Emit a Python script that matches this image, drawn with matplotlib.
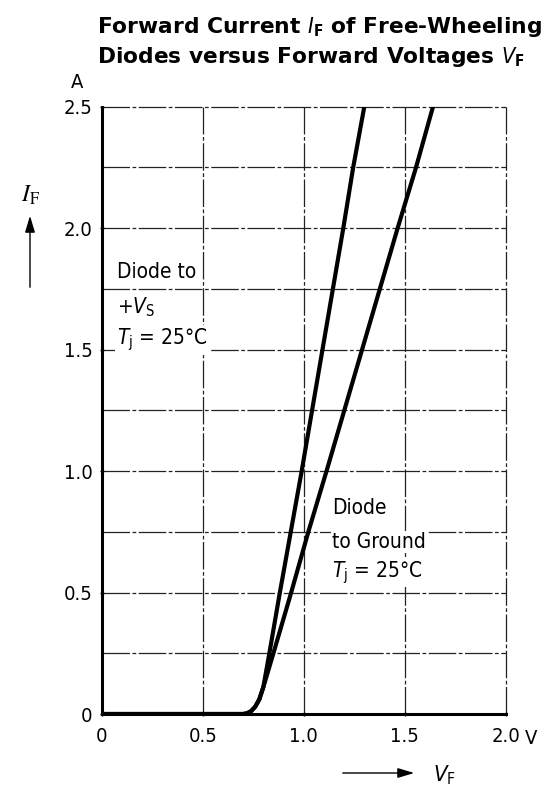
import matplotlib
matplotlib.use("Agg")
import matplotlib.pyplot as plt
from matplotlib.patches import FancyArrowPatch

# forward characteristics
vf_supply = [0.0, 0.70, 0.72, 0.74, 0.76, 0.78, 0.80, 0.83, 0.882, 0.936, 0.99, 1.196, 1.245, 1.30]
if_supply = [0.0, 0.0, 0.003, 0.012, 0.03, 0.06, 0.11, 0.25, 0.50, 0.75, 1.00, 2.00, 2.25, 2.50]
vf_ground = [0.0, 0.70, 0.72, 0.74, 0.76, 0.78, 0.80, 0.85, 0.938, 1.023, 1.113, 1.465, 1.556, 1.64]
if_ground = [0.0, 0.0, 0.003, 0.012, 0.03, 0.06, 0.11, 0.25, 0.50, 0.75, 1.00, 2.00, 2.25, 2.50]

x_ticks = [0, 0.5, 1.0, 1.5, 2.0]
x_labels = ["0", "0.5", "1.0", "1.5", "2.0"]
y_ticks = [0, 0.5, 1.0, 1.5, 2.0, 2.5]
y_labels = ["0", "0.5", "1.0", "1.5", "2.0", "2.5"]

plt.rcParams["font.family"] = ["DejaVu Sans"]
plt.rcParams["font.stretch"] = "condensed"
plt.rcParams["mathtext.fontset"] = "dejavusans"

W, H = 547, 790
fig = plt.figure(figsize=(W / 100, H / 100), dpi=100)
ax = fig.add_axes([101.7 / W, 1 - 714 / H, (505.7 - 101.7) / W, (714 - 106.7) / H])


def px(x, y):
    return x / W, 1 - y / H


ax.set_xlim(0, 2.0)
ax.set_ylim(0, 2.5)

grid_ls = (0, (22, 2, 3, 2))
for v in [0.5, 1.0, 1.5, 2.0]:
    ax.axvline(v, color="#222222", lw=0.9, ls=grid_ls, zorder=1, clip_on=False)
for i in [0.25, 0.5, 0.75, 1.0, 1.25, 1.5, 1.75, 2.0, 2.25, 2.5]:
    ax.axhline(i, color="#222222", lw=0.9, ls=grid_ls, zorder=1, clip_on=False)

ax.plot(vf_supply, if_supply, color="black", lw=3.0, zorder=4, solid_capstyle="butt")
ax.plot(vf_ground, if_ground, color="black", lw=3.0, zorder=4, solid_capstyle="butt")

for s in ["top", "right"]:
    ax.spines[s].set_visible(False)
for s in ["left", "bottom"]:
    ax.spines[s].set_linewidth(2.2)
    ax.spines[s].set_zorder(5)

ax.set_xticks(x_ticks)
ax.set_xticklabels(x_labels)
ax.set_yticks(y_ticks)
ax.set_yticklabels(y_labels)
ax.tick_params(axis="both", length=3, width=1, direction="inout", labelsize=14.5)
ax.tick_params(axis="x", pad=8)
ax.tick_params(axis="y", pad=5)

box = dict(facecolor="white", edgecolor="none", pad=1.0)
txt = dict(fontsize=15, va="center", ha="left", zorder=3, bbox=box)
ax.text(0.075, 1.82, "Diode to", **txt)
ax.text(0.075, 1.675, r"+$\mathit{V}_\mathrm{S}$", **txt)
ax.text(0.075, 1.54, r"$\mathit{T}_\mathrm{j}$ = 25°C", **txt)
ax.text(1.14, 0.848, "Diode", **txt)
ax.text(1.14, 0.708, "to Ground", **txt)
ax.text(1.14, 0.584, r"$\mathit{T}_\mathrm{j}$ = 25°C", **txt)

# unit labels
fig.text(*px(77, 82), "A", fontsize=14.5, ha="center", va="center")
fig.text(*px(531, 739), "V", fontsize=14.5, ha="center", va="center")

# axis symbols with arrows
fig.text(*px(30, 195), r"$\mathit{I}_\mathrm{F}$", fontsize=17, ha="center", va="center",
         math_fontfamily="stix")
fig.add_artist(FancyArrowPatch(px(30, 290), px(30, 213), transform=fig.transFigure,
                               arrowstyle="-|>,head_length=10,head_width=3", lw=1, color="black"))
fig.text(*px(444, 775), r"$\mathit{V}_\mathrm{F}$", fontsize=16, ha="center", va="center")
fig.add_artist(FancyArrowPatch(px(340, 773), px(417, 773), transform=fig.transFigure,
                               arrowstyle="-|>,head_length=10,head_width=3", lw=1, color="black"))

# title
tfont = dict(fontsize=15.7, fontweight="bold", fontstretch="normal", ha="left", va="baseline")
fig.text(*px(97, 33), r"Forward Current $\mathbf{\mathit{I}}_\mathbf{F}$ of Free-Wheeling", **tfont)
fig.text(*px(97, 63), r"Diodes versus Forward Voltages $\mathbf{\mathit{V}}_\mathbf{F}$", **tfont)

fig.savefig("out.png", dpi=100)
